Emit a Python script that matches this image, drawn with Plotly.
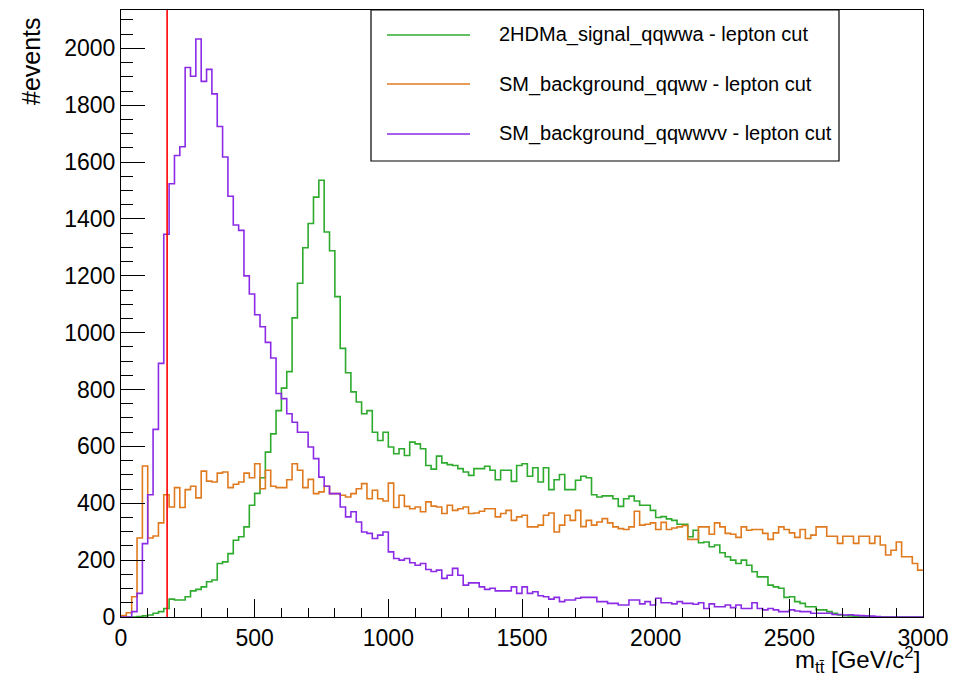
import numpy as np
import plotly.graph_objects as go

# ---- histogram content: m_ttbar, 150 bins of 20 GeV from 0 to 3000 ----
BIN_LOW = 0.0
BIN_WIDTH = 20.0

signal_qqwwa = [
    0, 0, 0, 2, 4, 7, 13, 19, 30, 63,
    60, 60, 71, 92, 97, 106, 124, 130, 188, 194,
    223, 270, 282, 317, 393, 435, 490, 580, 644, 726,
    805, 863, 1052, 1174, 1299, 1384, 1477, 1536, 1354, 1288,
    1127, 945, 859, 792, 756, 715, 726, 650, 621, 650,
    598, 574, 592, 568, 615, 609, 592, 533, 520, 566,
    542, 536, 533, 522, 510, 498, 522, 522, 530, 516,
    483, 516, 516, 477, 533, 539, 495, 525, 475, 525,
    448, 483, 501, 448, 448, 481, 495, 490, 430, 422,
    426, 426, 416, 389, 416, 425, 408, 393, 393, 375,
    350, 353, 345, 340, 326, 326, 282, 305, 261, 264,
    247, 253, 226, 212, 200, 188, 200, 182, 159, 141,
    141, 112, 106, 101, 69, 71, 54, 48, 36, 36,
    25, 25, 19, 13, 7, 5, 4, 3, 2, 1,
    0, 0, 0, 0, 0, 0, 0, 0, 0, 0,
]

background_qqww = [
    5, 15, 71, 278, 531, 278, 285, 331, 430, 387,
    455, 385, 448, 460, 419, 513, 478, 475, 506, 510,
    455, 467, 475, 506, 490, 539, 451, 516, 460, 455,
    455, 483, 539, 516, 455, 484, 434, 440, 460, 434,
    434, 428, 422, 434, 451, 469, 416, 446, 416, 408,
    471, 385, 428, 389, 381, 387, 370, 405, 390, 387,
    364, 393, 375, 381, 387, 364, 366, 372, 381, 381,
    352, 364, 375, 340, 352, 358, 317, 317, 323, 358,
    366, 299, 323, 358, 340, 375, 318, 340, 323, 334,
    346, 331, 317, 311, 308, 317, 372, 323, 326, 331,
    308, 333, 308, 313, 317, 322, 273, 273, 317, 317,
    291, 331, 317, 294, 291, 280, 317, 305, 308, 308,
    294, 273, 296, 317, 308, 296, 280, 308, 276, 288,
    317, 317, 284, 284, 259, 284, 284, 259, 284, 284,
    259, 284, 253, 218, 235, 264, 212, 212, 188, 165,
]

background_qqwwvv = [
    0, 0, 19, 83, 258, 430, 660, 892, 1346, 1524,
    1623, 1654, 1933, 1902, 2033, 1884, 1926, 1840, 1725, 1618,
    1480, 1379, 1360, 1200, 1136, 1063, 1021, 966, 911, 786,
    768, 715, 685, 650, 650, 598, 557, 492, 460, 434,
    434, 387, 352, 370, 334, 299, 294, 276, 288, 299,
    229, 206, 200, 206, 191, 182, 188, 167, 160, 165,
    136, 147, 171, 147, 112, 120, 120, 106, 97, 101,
    92, 92, 92, 106, 83, 106, 83, 89, 75, 71,
    63, 69, 54, 60, 60, 66, 69, 69, 69, 54,
    54, 48, 48, 42, 42, 60, 60, 46, 54, 42,
    66, 50, 50, 46, 54, 48, 48, 45, 50, 30,
    46, 36, 36, 42, 33, 42, 30, 30, 50, 30,
    25, 30, 25, 19, 19, 25, 21, 19, 19, 13,
    13, 13, 13, 9, 9, 7, 8, 6, 5, 4,
    3, 2, 0, 0, 0, 0, 0, 0, 0, 0,
]

series_names = [
    "2HDMa_signal_qqwwa - lepton cut",
    "SM_background_qqww - lepton cut",
    "SM_background_qqwwvv - lepton cut",
]
series_values = [signal_qqwwa, background_qqww, background_qqwwvv]
series_colors = ["#2eaa2e", "#e07a1f", "#8b2be6"]

# vertical marker at the top-quark mass
TOP_MASS = 172.5

X_MAX = 3000
Y_MAX = 2135
x_ticks = [0, 500, 1000, 1500, 2000, 2500, 3000]
y_ticks = [0, 200, 400, 600, 800, 1000, 1200, 1400, 1600, 1800, 2000]

FONT = "Liberation Sans, Arial, Helvetica, sans-serif"

# ---- page geometry (pixels) ----
W, H = 966, 678
L, R, T, B = 121, 923, 10, 617


def px_x(px):
    return (px - L) / (R - L)


def px_y(py):
    return (B - py) / (B - T)


fig = go.Figure()

n_bins = len(signal_qqwwa)
edges = BIN_LOW + BIN_WIDTH * np.arange(n_bins + 1)

for name, vals, col in zip(series_names, series_values, series_colors):
    v = np.asarray(vals, dtype=float)
    fig.add_trace(go.Scatter(
        x=edges,
        y=np.append(v, v[-1]),
        mode="lines",
        line=dict(color=col, width=1.6, shape="hv"),
        name=name,
        showlegend=False,
        hoverinfo="skip",
    ))

# top-mass line
fig.add_shape(type="line", xref="x", yref="y",
              x0=TOP_MASS, x1=TOP_MASS, y0=0, y1=Y_MAX,
              line=dict(color="#ff0000", width=1.6))

# legend box drawn as in the ROOT canvas
fig.add_shape(type="rect", xref="paper", yref="paper",
              x0=px_x(371), x1=px_x(839), y0=px_y(161), y1=px_y(10),
              line=dict(color="black", width=1.2), fillcolor="white", layer="above")
row_y = [35, 84, 134]
for name, col, ry in zip(series_names, series_colors, row_y):
    fig.add_shape(type="line", xref="paper", yref="paper",
                  x0=px_x(387), x1=px_x(470), y0=px_y(ry), y1=px_y(ry),
                  line=dict(color=col, width=1.6), layer="above")
    fig.add_annotation(xref="paper", yref="paper", x=px_x(497), y=px_y(ry),
                       xanchor="left", yanchor="middle", showarrow=False,
                       text=name, font=dict(family=FONT, size=20, color="black"))

# axis titles
fig.add_annotation(xref="paper", yref="paper", x=px_x(922), y=px_y(641),
                   xanchor="right", yanchor="top", showarrow=False,
                   text="m<sub>tt\u0304</sub> [GeV/c<sup>2</sup>]",
                   font=dict(family=FONT, size=24, color="black"))
fig.add_annotation(xref="paper", yref="paper", x=px_x(31), y=px_y(15),
                   xanchor="center", yanchor="top", showarrow=False,
                   textangle=-90, text="#events",
                   font=dict(family=FONT, size=25, color="black"))

axis_common = dict(
    showgrid=False, zeroline=False,
    showline=True, linecolor="black", linewidth=1.2, mirror=True,
    ticks="inside", tickcolor="black", tickwidth=1.2,
    tickfont=dict(family=FONT, size=23, color="black"),
)

fig.update_xaxes(range=[0, X_MAX], tickvals=x_ticks, ticklen=18,
                 minor=dict(dtick=100, ticklen=9, ticks="inside",
                            tickcolor="black", tickwidth=1.2, showgrid=False),
                 **axis_common)
fig.update_yaxes(range=[0, Y_MAX], tickvals=y_ticks, ticklen=24,
                 minor=dict(dtick=50, ticklen=12, ticks="inside",
                            tickcolor="black", tickwidth=1.2, showgrid=False),
                 **axis_common)

fig.update_layout(
    width=W, height=H,
    margin=dict(l=L, r=W - R, t=T, b=H - B, pad=0),
    paper_bgcolor="white", plot_bgcolor="white",
    font=dict(family=FONT, color="black"),
    showlegend=False,
)

fig.write_html("out.html")
